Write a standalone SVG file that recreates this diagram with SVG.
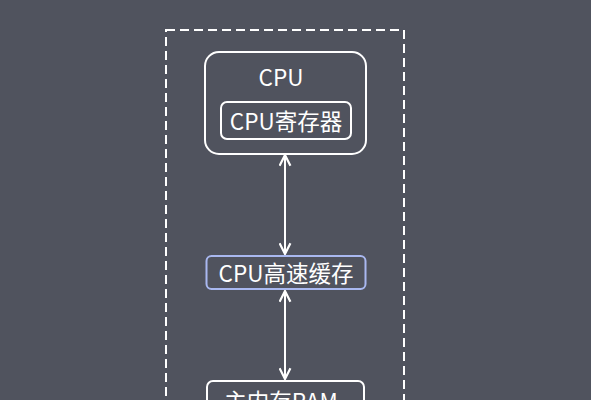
<svg xmlns="http://www.w3.org/2000/svg" width="591" height="400" viewBox="0 0 591 400">
<style>
.t{font-family:"Noto Sans CJK SC","Noto Sans",sans-serif;fill:#ffffff;text-anchor:middle;dominant-baseline:central;font-size:22.5px}
.box{fill:none;stroke:#ffffff;stroke-width:2}
.conn{stroke:#ffffff;stroke-width:2;fill:none;marker-start:url(#ah);marker-end:url(#ah)}
</style>
<defs>
<marker id="ah" viewBox="0 0 12 12" refX="11" refY="6" markerWidth="13" markerHeight="13" markerUnits="userSpaceOnUse" orient="auto-start-reverse">
<path d="M1,1 L11,6 L1,11" fill="none" stroke="#ffffff" stroke-width="2"/>
</marker>
</defs>
<rect width="591" height="400" fill="#50535e"/>
<g id="boundary">
<rect x="166" y="30" width="238" height="400" fill="none" stroke="#ffffff" stroke-width="2" stroke-dasharray="9,5"/>
</g>
<g id="cpu">
<rect class="box" x="205" y="52" width="161" height="102" rx="14"/>
<text class="t" x="281" y="76">CPU</text>
</g>
<g id="cpu-register">
<rect class="box" x="221" y="102" width="130" height="37" rx="6"/>
<text class="t" x="286" y="120">CPU寄存器</text>
</g>
<g id="cpu-cache">
<rect x="206.5" y="256" width="159" height="33" rx="5" fill="none" stroke="#a9b8f0" stroke-width="2"/>
<text class="t" x="286" y="272">CPU高速缓存</text>
</g>
<g id="main-memory">
<rect class="box" x="207" y="381" width="157" height="40" rx="6"/>
<text class="t" x="281" y="400">主内存RAM</text>
</g>
<g id="connectors">
<line class="conn" x1="285" y1="155" x2="285" y2="254"/>
<line class="conn" x1="285" y1="291" x2="285" y2="379"/>
</g>
</svg>
